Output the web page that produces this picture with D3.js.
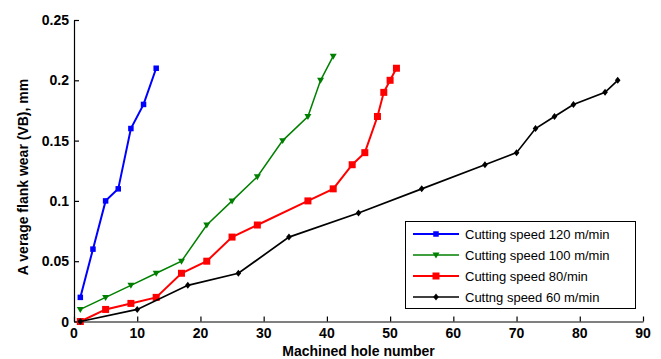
<!DOCTYPE html>
<html>
<head>
<meta charset="utf-8">
<script src="https://cdn.jsdelivr.net/npm/d3@7"></script>
<style>
  body { margin: 0; background: #fff; }
  svg text { font-family: Arial, "Liberation Sans", sans-serif; }
</style>
</head>
<body>
<div id="chart"></div>
<script>
var WIDTH = 661
var HEIGHT = 359

// data
var xTicks = [0, 10, 20, 30, 40, 50, 60, 70, 80, 90];
var yTicks = [0, 0.05, 0.1, 0.15, 0.2, 0.25];
var yTickLabels = ['0', '0.05', '0.1', '0.15', '0.2', '0.25'];

var holes120 = [1, 3, 5, 7, 9, 11, 13];
var wear120 = [0.02, 0.06, 0.10, 0.11, 0.16, 0.18, 0.21];

var holes100 = [1, 5, 9, 13, 17, 21, 25, 29, 33, 37, 39, 41];
var wear100 = [0.01, 0.02, 0.03, 0.04, 0.05, 0.08, 0.10, 0.12, 0.15, 0.17, 0.20, 0.22];

var holes80 = [1, 5, 9, 13, 17, 21, 25, 29, 37, 41, 44, 46, 48, 49, 50, 51];
var wear80 = [0, 0.01, 0.015, 0.02, 0.04, 0.05, 0.07, 0.08, 0.10, 0.11, 0.13, 0.14, 0.17, 0.19, 0.20, 0.21];

var holes60 = [1, 10, 18, 26, 34, 45, 55, 65, 70, 73, 76, 79, 84, 86];
var wear60 = [0, 0.01, 0.03, 0.04, 0.07, 0.09, 0.11, 0.13, 0.14, 0.16, 0.17, 0.18, 0.19, 0.20];

var seriesNames = ['Cutting speed 120 m/min', 'Cutting speed 100 m/min', 'Cutting speed 80/min', 'Cuttng speed 60 m/min'];

var series = [
    { name: seriesNames[0], x: holes120, y: wear120, color: '#0000ff', marker: 'square', size: 5.5, width: 2 },
    { name: seriesNames[1], x: holes100, y: wear100, color: '#008000', marker: 'tri', size: 7, width: 1.5 },
    { name: seriesNames[2], x: holes80, y: wear80, color: '#ff0000', marker: 'square', size: 7, width: 2 },
    { name: seriesNames[3], x: holes60, y: wear60, color: '#000000', marker: 'diamond', size: 7, width: 1.7 }
];

var svg = d3.select('#chart').append('svg')
    .attr('width', WIDTH)
    .attr('height', HEIGHT);

var x = d3.scaleLinear().domain([0, 90]).range([74, 643]);
var y = d3.scaleLinear().domain([0, 0.25]).range([321.5, 20]);

// axes, ticks pointing inward
svg.append('g')
    .attr('transform', 'translate(0,' + y(0) + ')')
    .call(d3.axisTop(x).tickValues(xTicks).tickSize(5).tickSizeOuter(0).tickFormat(''));

svg.append('g')
    .attr('transform', 'translate(' + x(0) + ',0)')
    .call(d3.axisRight(y).tickValues(yTicks).tickSize(5).tickSizeOuter(0).tickFormat(''));

svg.selectAll('.domain, .tick line').attr('stroke', '#000').attr('stroke-width', 1.2);

svg.append('g').selectAll('text')
    .data(xTicks)
    .enter()
    .append('text')
    .attr('x', d => x(d))
    .attr('y', 338)
    .attr('text-anchor', 'middle')
    .attr('font-size', 14)
    .attr('font-weight', 'bold')
    .text(d => d);

svg.append('g').selectAll('text')
    .data(yTicks)
    .enter()
    .append('text')
    .attr('x', 69)
    .attr('y', d => y(d) + 5)
    .attr('text-anchor', 'end')
    .attr('font-size', 14)
    .attr('font-weight', 'bold')
    .text((d, i) => yTickLabels[i]);

svg.append('text')
    .attr('x', x(45))
    .attr('y', 356)
    .attr('text-anchor', 'middle')
    .attr('font-size', 14)
    .attr('font-weight', 'bold')
    .text('Machined hole number');

svg.append('text')
    .attr('transform', 'translate(28,177) rotate(-90)')
    .attr('text-anchor', 'middle')
    .attr('font-size', 14)
    .attr('font-weight', 'bold')
    .text('A verage flank wear (VB), mm');

function drawMarker(g, s, cx, cy) {
    var h = s.size / 2;
    if (s.marker == 'square') {
        g.append('rect')
            .attr('x', cx - h).attr('y', cy - h)
            .attr('width', s.size).attr('height', s.size)
            .attr('fill', s.color);
    } else if (s.marker == 'tri') {
        g.append('path')
            .attr('d', 'M' + (cx - h) + ',' + (cy - h * 0.7) + 'L' + (cx + h) + ',' + (cy - h * 0.7) + 'L' + cx + ',' + (cy + h) + 'Z')
            .attr('fill', s.color);
    } else {
        g.append('path')
            .attr('d', 'M' + cx + ',' + (cy - h) + 'L' + (cx + h * 0.8) + ',' + cy + 'L' + cx + ',' + (cy + h) + 'L' + (cx - h * 0.8) + ',' + cy + 'Z')
            .attr('fill', s.color);
    }
}

var line = d3.line().x(d => x(d[0])).y(d => y(d[1]));

series.forEach(s => {
    var pts = s.x.map((v, i) => [v, s.y[i]]);
    var g = svg.append('g');
    g.append('path')
        .datum(pts)
        .attr('d', line)
        .attr('fill', 'none')
        .attr('stroke', s.color)
        .attr('stroke-width', s.width);
    pts.forEach(p => drawMarker(g, s, x(p[0]), y(p[1])));
});

// legend
var legend = svg.append('g');
legend.append('rect')
    .attr('x', 405.5).attr('y', 221.5)
    .attr('width', 230).attr('height', 87)
    .attr('fill', '#fff')
    .attr('stroke', '#000')
    .attr('stroke-width', 1);

series.forEach((s, i) => {
    var ly = 234 + i * 21;
    legend.append('line')
        .attr('x1', 413).attr('x2', 459)
        .attr('y1', ly).attr('y2', ly)
        .attr('stroke', s.color)
        .attr('stroke-width', s.width);
    drawMarker(legend, s, 436, ly);
    legend.append('text')
        .attr('x', 465)
        .attr('y', ly + 4.5)
        .attr('font-size', 13)
        .text(s.name);
});
</script>
</body>
</html>
